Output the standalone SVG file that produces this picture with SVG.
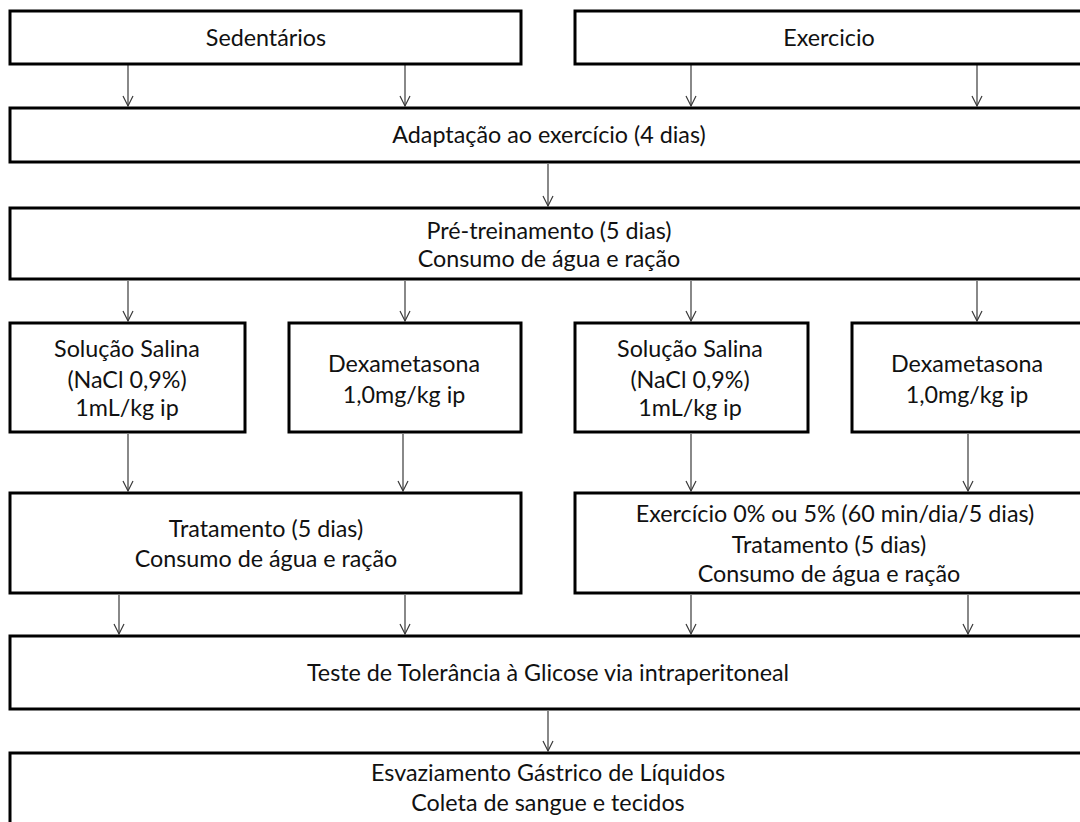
<svg xmlns="http://www.w3.org/2000/svg" width="1080" height="822" viewBox="0 0 1080 822">
<style>
.box{fill:#fff;stroke:#000;stroke-width:3}
.t{font-family:Lato,"Liberation Sans",sans-serif;font-size:23.3px;fill:#111;text-anchor:middle}
.c{stroke:#3a3a3a;stroke-width:1.2;fill:none;marker-end:url(#ah)}
</style>
<defs>
<marker id="ah" markerUnits="userSpaceOnUse" markerWidth="14" markerHeight="14" viewBox="-12 -7 14 14" refX="0" refY="0" orient="auto">
<path d="M-10,-5 L0,0 L-10,5" fill="none" stroke="#3a3a3a" stroke-width="1.2"/>
</marker>
</defs>
<rect width="1080" height="822" fill="#fff"/>
<g id="connectors">
<line class="c" x1="128" y1="65" x2="128" y2="106"/>
<line class="c" x1="405" y1="65" x2="405" y2="106"/>
<line class="c" x1="691" y1="65" x2="691" y2="106"/>
<line class="c" x1="977" y1="65" x2="977" y2="106"/>
<line class="c" x1="548" y1="164" x2="548" y2="206"/>
<line class="c" x1="128" y1="281" x2="128" y2="321"/>
<line class="c" x1="405" y1="281" x2="405" y2="321"/>
<line class="c" x1="691" y1="281" x2="691" y2="321"/>
<line class="c" x1="977" y1="281" x2="977" y2="321"/>
<line class="c" x1="128" y1="434" x2="128" y2="491"/>
<line class="c" x1="403" y1="434" x2="403" y2="491"/>
<line class="c" x1="691" y1="434" x2="691" y2="491"/>
<line class="c" x1="968" y1="434" x2="968" y2="491"/>
<line class="c" x1="119" y1="595" x2="119" y2="634"/>
<line class="c" x1="405" y1="595" x2="405" y2="634"/>
<line class="c" x1="691" y1="595" x2="691" y2="634"/>
<line class="c" x1="968" y1="595" x2="968" y2="634"/>
<line class="c" x1="548" y1="711" x2="548" y2="751"/>
</g>
<g id="sedentarios"><rect class="box" x="10" y="11" width="511" height="53"/><text class="t" x="266" y="46">Sedentários</text></g>
<g id="exercicio"><rect class="box" x="575" y="11" width="510" height="53"/><text class="t" x="829" y="46">Exercicio</text></g>
<g id="adaptacao"><rect class="box" x="10" y="108" width="1075" height="54"/><text class="t" x="549" y="143">Adaptação ao exercício (4 dias)</text></g>
<g id="pretreinamento"><rect class="box" x="10" y="208" width="1075" height="71"/><text class="t" x="549" y="239">Pré-treinamento (5 dias)</text><text class="t" x="549" y="267">Consumo de água e ração</text></g>
<g id="salina1"><rect class="box" x="10" y="323" width="235" height="109"/><text class="t" x="127" y="357">Solução Salina</text><text class="t" x="127" y="388">(NaCl 0,9%)</text><text class="t" x="127" y="416">1mL/kg ip</text></g>
<g id="dexa1"><rect class="box" x="289" y="323" width="232" height="109"/><text class="t" x="404" y="372">Dexametasona</text><text class="t" x="404" y="403">1,0mg/kg ip</text></g>
<g id="salina2"><rect class="box" x="575" y="323" width="233" height="109"/><text class="t" x="690" y="357">Solução Salina</text><text class="t" x="690" y="388">(NaCl 0,9%)</text><text class="t" x="690" y="416">1mL/kg ip</text></g>
<g id="dexa2"><rect class="box" x="852" y="323" width="235" height="109"/><text class="t" x="967" y="372">Dexametasona</text><text class="t" x="967" y="403">1,0mg/kg ip</text></g>
<g id="tratamento1"><rect class="box" x="10" y="493" width="511" height="100"/><text class="t" x="266" y="537">Tratamento (5 dias)</text><text class="t" x="266" y="567">Consumo de água e ração</text></g>
<g id="tratamento2"><rect class="box" x="575" y="493" width="510" height="100"/><text class="t" x="835" y="522">Exercício 0% ou 5% (60 min/dia/5 dias)</text><text class="t" x="829" y="553">Tratamento (5 dias)</text><text class="t" x="829" y="582">Consumo de água e ração</text></g>
<g id="teste"><rect class="box" x="10" y="636" width="1075" height="73"/><text class="t" x="548" y="681">Teste de Tolerância à Glicose via intraperitoneal</text></g>
<g id="esvaziamento"><rect class="box" x="10" y="753" width="1075" height="80"/><text class="t" x="548" y="781">Esvaziamento Gástrico de Líquidos</text><text class="t" x="548" y="811">Coleta de sangue e tecidos</text></g>
</svg>
